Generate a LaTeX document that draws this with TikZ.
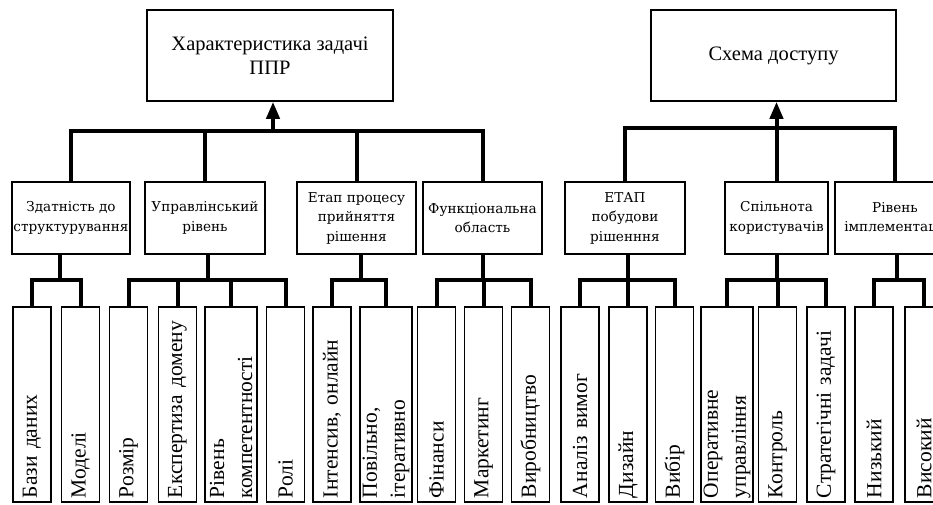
\documentclass[tikz,border=0pt]{standalone}
\usepackage{fontspec}
\setmainfont{Liberation Serif}
\newfontfamily\midfont{DejaVu Serif}
\usetikzlibrary{arrows.meta}

\begin{document}
\begin{tikzpicture}[x=1pt, y=-1pt,
topbox/.style={rectangle, draw, line width=1.6pt, minimum width=246pt, minimum height=91pt, align=center, font=\fontsize{20.5}{24.5}\selectfont},
midbox/.style={rectangle, draw, line width=1.6pt, minimum width=120pt, minimum height=72pt, inner sep=1pt, align=center, font=\midfont\fontsize{13.6}{19.5}\selectfont},
leafbox/.style={rectangle, draw, line width=1.6pt, rotate=90, minimum width=195pt, minimum height=38pt, text width=187pt, inner xsep=4pt, inner ysep=0pt, align=left, font=\fontsize{21.5}{28}\selectfont},
wide/.style={minimum height=52pt},
bus/.style={line width=4pt},
tip/.style={-{Triangle[length=17pt, width=13pt]}}
]
\useasboundingbox (0,0) rectangle (933,504);
\clip (0,0) rectangle (933,504);

\node[topbox] (t1) at (270,55.5) {Характеристика задачі\\ППР};
\node[topbox, minimum width=245pt] (t2) at (773.5,55.5) {Схема доступу};

\node[midbox, minimum width=118pt] (m1) at (71,218) {Здатність до\\структурування};
\node[midbox] (m2) at (205,218) {Управлінський\\рівень};
\node[midbox, minimum width=119pt] (m3) at (356.5,218) {Етап процесу\\прийняття\\рішення};
\node[midbox, minimum width=119pt] (m4) at (482.5,218) {Функціональна\\область};
\node[midbox] (m5) at (625,218) {ЕТАП\\побудови\\рішенння};
\node[midbox, minimum width=103pt] (m6) at (776.5,218) {Спільнота\\користувачів};
\node[midbox] (m7) at (895,218) {Рівень\\імплементації};

\node[leafbox] (l1) at (32,404.5) {Бази даних};
\node[leafbox] (l2) at (80.5,404.5) {Моделі};
\node[leafbox] (l3) at (128.5,404.5) {Розмір};
\node[leafbox] (l4) at (177.5,404.5) {Експертиза домену};
\node[leafbox, wide] (l5) at (231,404.5) {Рівень\\компетентності};
\node[leafbox] (l6) at (285.5,404.5) {Ролі};
\node[leafbox] (l7) at (332,404.5) {Інтенсив, онлайн};
\node[leafbox, wide] (l8) at (386,404.5) {Повільно,\\ітеративно};
\node[leafbox] (l9) at (436.5,404.5) {Фінанси};
\node[leafbox] (l10) at (483.5,404.5) {Маркетинг};
\node[leafbox] (l11) at (530.5,404.5) {Виробництво};
\node[leafbox] (l12) at (580,404.5) {Аналіз вимог};
\node[leafbox] (l13) at (628,404.5) {Дизайн};
\node[leafbox] (l14) at (674.5,404.5) {Вибір};
\node[leafbox, wide] (l15) at (727,404.5) {Оперативне\\управління};
\node[leafbox] (l16) at (777.5,404.5) {Контроль};
\node[leafbox] (l17) at (826,404.5) {Стратегічні задачі};
\node[leafbox] (l18) at (874,404.5) {Низький};
\node[leafbox] (l19) at (924,404.5) {Високий};

% upper buses
\coordinate (j1) at (273,131);
\coordinate (j2) at (776.5,128);
\draw[bus] (m1.north) |- (j1) -| (m4.north);
\draw[bus] (m2.north) -- (m2.north |- j1);
\draw[bus] (m3.north) -- (m3.north |- j1);
\draw[bus, tip] (j1) -- (j1 |- t1.south);
\draw[bus] (m5.north) |- (j2) -| (m7.north);
\draw[bus] (m6.north) -- (m6.north |- j2);
\draw[bus, tip] (j2) -- (j2 |- t2.south);

% lower buses
\coordinate (k1) at (60,280);
\coordinate (k2) at (208,280);
\coordinate (k3) at (361,280);
\coordinate (k4) at (483,280);
\coordinate (k5) at (628,280);
\coordinate (k6) at (777,280);
\coordinate (k7) at (897,280);
\draw[bus] (l1.east) |- (k1) -| (l2.east);
\draw[bus] (k1) -- (k1 |- m1.south);
\draw[bus] (l3.east) |- (k2) -| (l6.east);
\draw[bus] (l4.east) -- (l4.east |- k2);
\draw[bus] (l5.east) -- (l5.east |- k2);
\draw[bus] (k2) -- (k2 |- m2.south);
\draw[bus] (l7.east) |- (k3) -| (l8.east);
\draw[bus] (k3) -- (k3 |- m3.south);
\draw[bus] (l9.east) |- (k4) -| (l11.east);
\draw[bus] (l10.east) -- (l10.east |- k4);
\draw[bus] (k4) -- (k4 |- m4.south);
\draw[bus] (l12.east) |- (k5) -| (l14.east);
\draw[bus] (l13.east) -- (l13.east |- k5);
\draw[bus] (k5) -- (k5 |- m5.south);
\draw[bus] (l15.east) |- (k6) -| (l17.east);
\draw[bus] (l16.east) -- (l16.east |- k6);
\draw[bus] (k6) -- (k6 |- m6.south);
\draw[bus] (l18.east) |- (k7) -| (l19.east);
\draw[bus] (k7) -- (k7 |- m7.south);
\end{tikzpicture}
\end{document}
